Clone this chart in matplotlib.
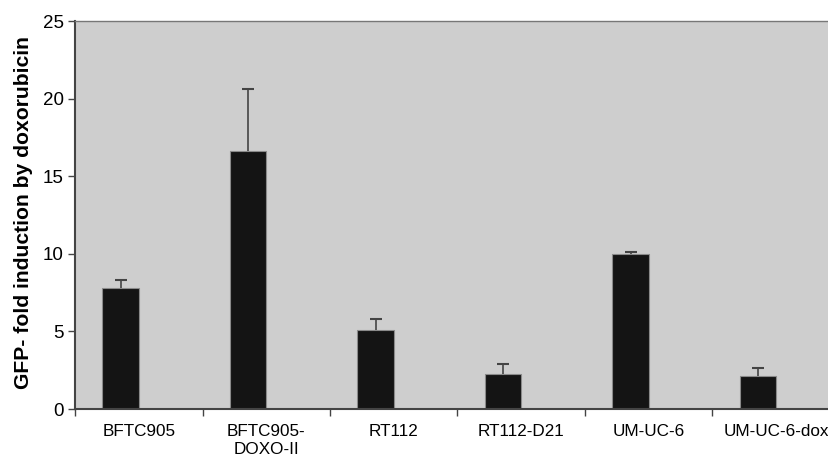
import matplotlib

matplotlib.use('Agg')

import matplotlib.pyplot as plt
import numpy as np

# values
cell_lines = ['BFTC905', 'BFTC905-\nDOXO-II', 'RT112', 'RT112-D21', 'UM-UC-6', 'UM-UC-6-dox']
fold_induction = [7.78, 16.64, 5.07, 2.28, 9.97, 2.15]
err_upper = [0.51, 4.0, 0.73, 0.64, 0.13, 0.47]
y_ticks = [0, 5, 10, 15, 20, 25]

plt.rcParams['font.family'] = ['Liberation Sans', 'DejaVu Sans']

fig = plt.figure(figsize=(8.29, 4.59), dpi=100)
# plot area runs off the right edge of the picture, as in the original
ax = fig.add_axes([75/829, 1 - 409/459, 765/829, 388/459])

x = np.arange(len(cell_lines))
w = 1 / 3.5
ax.bar(x - w/2, fold_induction, width=w, color='#141414', edgecolor='#8a8a8a',
       linewidth=0.8, zorder=2)
eb = ax.errorbar(x - w/2, fold_induction, yerr=[np.zeros(len(err_upper)), err_upper],
                 fmt='none', ecolor='#444444', elinewidth=1.2, capsize=4, capthick=1.5, zorder=3)
# upper error only: hide the lower caps
eb[1][0].set_visible(False)

ax.set_facecolor('#cecece')
ax.set_xlim(-0.5, len(cell_lines) - 0.5)
ax.set_ylim(0, 25)
ax.set_yticks(y_ticks)
ax.set_xticks(np.arange(len(cell_lines) + 1) - 0.5)
ax.set_xticklabels([])
ax.set_xticks(x, cell_lines, minor=True)
ax.tick_params(axis='x', which='minor', length=0, pad=11, labelsize=12.3)
ax.tick_params(axis='x', which='major', length=5, width=1, color='#444444')
ax.tick_params(axis='y', length=5, width=1, color='#444444', labelsize=13.5, pad=3)

for s in ['left', 'bottom']:
    ax.spines[s].set_color('#444444')
    ax.spines[s].set_linewidth(1.5)
ax.spines['top'].set_color('#777777')
ax.spines['top'].set_linewidth(1.0)
ax.spines['right'].set_visible(False)

ax.set_ylabel('GFP- fold induction by doxorubicin', fontsize=15.2, fontweight='bold', labelpad=6)
ax.yaxis.set_label_coords(-0.055, 0.505)

fig.savefig('out.png', dpi=100)
